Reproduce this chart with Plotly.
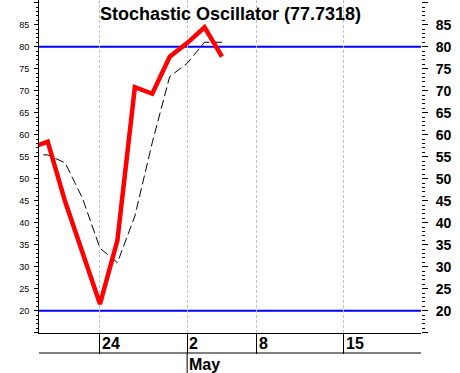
import plotly.graph_objects as go

# ---- data (trading-day index relative to Apr 24) ----
day_index = [-4, -3, -2, -1, 0, 1, 2, 3, 4, 5, 6, 7]
k_values = [57.0, 58.4, 44.8, 32.8, 21.5, 36.0, 70.8, 69.3, 77.7, 80.8, 84.4, 77.7318]
d_values = [55.4, 55.4, 53.6, 45.5, 34.2, 30.9, 41.5, 58.2, 73.2, 76.2, 81.0, 81.0]

day_tick_pos = [0, 5, 9, 14]
day_tick_labels = ["24", "2", "8", "15"]
month_tick_pos = [5]
month_tick_labels = ["May"]

y_tick_vals = [15, 20, 25, 30, 35, 40, 45, 50, 55, 60, 65, 70, 75, 80, 85, 90]
y_tick_labels = ["", "20", "25", "30", "35", "40", "45", "50", "55", "60",
                 "65", "70", "75", "80", "85", ""]
overbought = 80
oversold = 20

x_range = [-3.5, 18.42]
y_range = [14.93, 90.6]

W, H = 460, 373
ML, MR, MT, MB = 39, 39, 0, 40
plot_h = H - MT - MB

FONT = "Liberation Sans, Arial, sans-serif"

fig = go.Figure()
fig.add_trace(go.Scatter(
    x=day_index, y=d_values, mode="lines",
    line=dict(color="black", width=1, dash="9px,4px"),
    hoverinfo="skip", showlegend=False))
fig.add_trace(go.Scatter(
    x=day_index, y=k_values, mode="lines",
    line=dict(color="#ff0000", width=4.5),
    hoverinfo="skip", showlegend=False))
# invisible trace to anchor right axis
fig.add_trace(go.Scatter(
    x=[day_index[0]], y=[k_values[0]], yaxis="y2", mode="lines",
    line=dict(width=0), opacity=0, hoverinfo="skip", showlegend=False))

shapes = []
for lvl in (overbought, oversold):
    shapes.append(dict(type="line", xref="paper", x0=0, x1=1, yref="y",
                       y0=lvl, y1=lvl, line=dict(color="#0000ff", width=2),
                       layer="between"))
# second bottom line of the date band
band = 20 / plot_h
shapes.append(dict(type="line", xref="paper", x0=0, x1=1, yref="paper",
                   y0=-band, y1=-band, line=dict(color="black", width=1)))
for p in month_tick_pos:
    shapes.append(dict(type="line", xref="x", x0=p, x1=p, yref="paper",
                       y0=-band, y1=-2 * band, line=dict(color="black", width=1)))

annotations = [dict(
    text="<b>Stochastic Oscillator (%.4f)</b>" % k_values[-1],
    xref="paper", yref="paper", x=0.5, y=1, xanchor="center", yanchor="top",
    yshift=-2, showarrow=False, font=dict(family=FONT, size=18, color="black"))]
for p, t in zip(day_tick_pos, day_tick_labels):
    annotations.append(dict(text="<b>%s</b>" % t, xref="x", yref="paper", x=p,
                            y=-10 / plot_h, xanchor="left", yanchor="middle",
                            xshift=0, showarrow=False,
                            font=dict(family=FONT, size=16, color="black")))
for p, t in zip(month_tick_pos, month_tick_labels):
    annotations.append(dict(text="<b>%s</b>" % t, xref="x", yref="paper", x=p,
                            y=-31 / plot_h, xanchor="left", yanchor="middle",
                            xshift=0, showarrow=False,
                            font=dict(family=FONT, size=16, color="black")))

fig.update_layout(
    width=W, height=H,
    margin=dict(l=ML, r=MR, t=MT, b=MB, pad=0, autoexpand=False),
    paper_bgcolor="white", plot_bgcolor="white",
    showlegend=False,
    shapes=shapes, annotations=annotations,
    xaxis=dict(range=x_range, showline=True, linecolor="black", linewidth=1,
               tickmode="array", tickvals=day_tick_pos, showticklabels=False,
               ticks="outside", ticklen=20, tickcolor="black", tickwidth=1,
               showgrid=True, gridcolor="#c0c0c0", gridwidth=1, griddash="3px,2px",
               zeroline=False, fixedrange=True, automargin=False),
    yaxis=dict(range=y_range, showline=True, linecolor="black", linewidth=1,
               tickmode="array", tickvals=y_tick_vals, ticktext=y_tick_labels,
               ticks="outside", ticklen=4, tickcolor="black", tickwidth=1,
               tickfont=dict(family=FONT, size=9, color="black"),
               ticklabelstandoff=3, automargin=False,
               minor=dict(ticks="outside", ticklen=2, dtick=1, tick0=0,
                          tickcolor="black", showgrid=False),
               showgrid=False, zeroline=False, fixedrange=True),
    yaxis2=dict(range=y_range, overlaying="y", side="right", showline=False,
                tickmode="array", tickvals=y_tick_vals, ticktext=y_tick_labels,
                ticks="outside", ticklen=6, tickcolor="black", tickwidth=1,
                tickfont=dict(family=FONT, size=14, color="black", weight="bold"),
                ticklabelstandoff=5, automargin=False,
                minor=dict(ticks="outside", ticklen=3, dtick=1, tick0=0,
                           tickcolor="black", showgrid=False),
                showgrid=False, zeroline=False, fixedrange=True),
)

fig.write_html("out.html", config={"displayModeBar": False},
               post_script="document.body.style.margin='0';"
                           "document.body.style.padding='0';")
